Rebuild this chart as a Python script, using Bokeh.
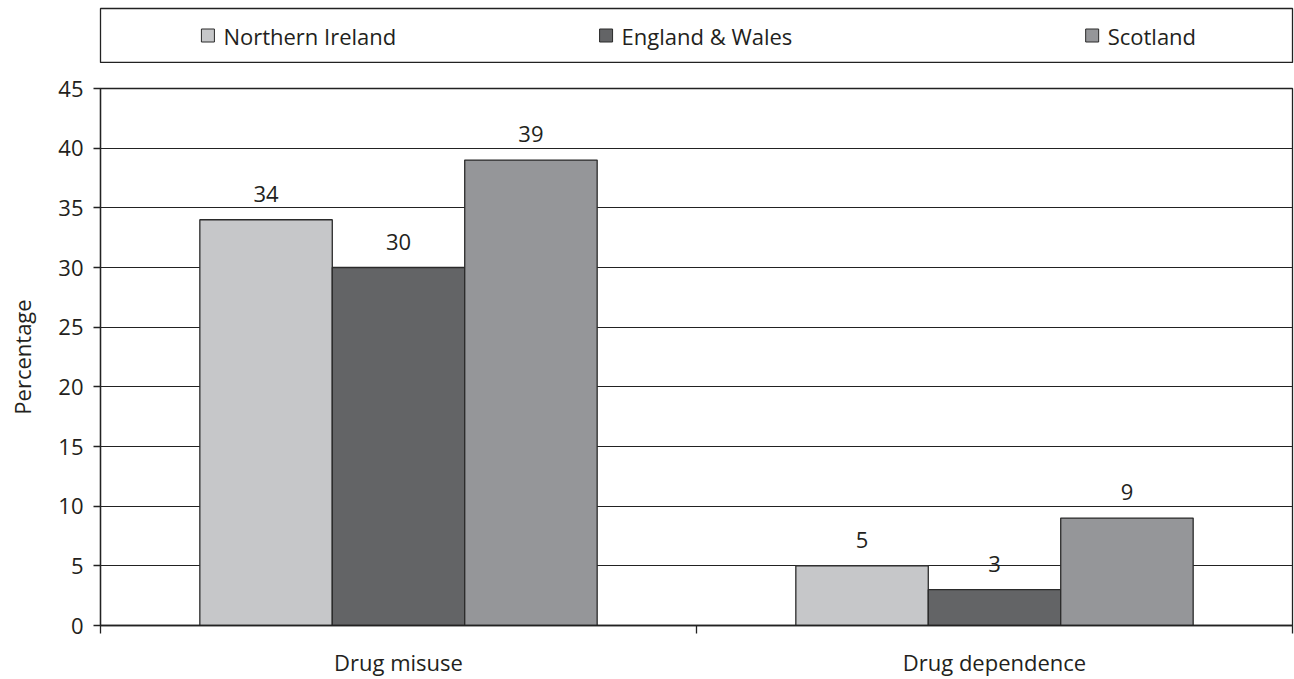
from bokeh.plotting import figure
from bokeh.models import ColumnDataSource, Range1d, FixedTicker
from bokeh.layouts import column
from bokeh.transform import dodge
from bokeh.core.properties import value
from bokeh.embed import file_html
from bokeh.resources import INLINE

# ---- data ----
categories = ["Drug misuse", "Drug dependence"]
series = ["Northern Ireland", "England & Wales", "Scotland"]
northern_ireland = [34, 5]
england_wales = [30, 3]
scotland = [39, 9]
y_ticks = [0, 5, 10, 15, 20, 25, 30, 35, 40, 45]

colors = ["#c6c7c9", "#636466", "#959699"]
edge = "#2a2a2a"
FONT = "Open Sans"
FS = "22px"

# ---- legend strip ----
leg = figure(width=1294, height=63, output_backend="svg", toolbar_location=None,
             x_range=Range1d(0, 1193), y_range=Range1d(0, 54),
             min_border_left=99, min_border_right=2, min_border_top=8, min_border_bottom=1)
leg.axis.visible = False
leg.grid.visible = False
leg.outline_line_color = "#222222"
leg.outline_line_width = 1.3
leg_sq_x = [107.5, 506, 992.5]
leg_src = ColumnDataSource(dict(x=leg_sq_x, tx=[x + 15.5 for x in leg_sq_x],
                                y=[27] * 3, name=series, color=colors))
leg.rect(x="x", y="y", width=13, height=13, width_units="screen", height_units="screen",
         fill_color="color", line_color=edge, line_width=1, source=leg_src)
leg.text(x="tx", y="y", text="name", source=leg_src, text_font=value(FONT),
         text_font_size=FS, text_baseline="middle", text_align="left", text_color="#231f20")

# ---- main chart ----
n = len(categories)
centers = [i + 0.5 for i in range(n)]
src = ColumnDataSource(dict(x=centers, cat=categories, ni=northern_ireland,
                            ew=england_wales, sc=scotland,
                            ni_t=[str(v) for v in northern_ireland],
                            ew_t=[str(v) for v in england_wales],
                            sc_t=[str(v) for v in scotland]))

p = figure(width=1294, height=616, output_backend="svg", toolbar_location=None,
           x_range=Range1d(0, n), y_range=Range1d(0, 45),
           min_border_left=100, min_border_right=2, min_border_top=25, min_border_bottom=53)
p.outline_line_color = "#222222"
p.outline_line_width = 1.3
p.xgrid.visible = False
p.ygrid.grid_line_color = "#222222"
p.ygrid.grid_line_width = 1.2
p.ygrid.ticker = FixedTicker(ticks=y_ticks)

bw = 1 / 4.5
for key, off, col in [("ni", -bw, colors[0]), ("ew", 0, colors[1]), ("sc", bw, colors[2])]:
    p.vbar(x=dodge("x", off, range=p.x_range), top=key, width=bw, bottom=0, source=src,
           fill_color=col, line_color=edge, line_width=1.3)
    p.text(x=dodge("x", off, range=p.x_range), y=key, text=key + "_t", source=src,
           text_font=value(FONT), text_font_size=FS, text_align="center",
           text_baseline="middle", y_offset=-26, text_color="#231f20")

# axes
p.yaxis.ticker = FixedTicker(ticks=y_ticks)
p.yaxis.axis_label = "Percentage"
p.yaxis.axis_label_text_font = FONT
p.yaxis.axis_label_text_font_style = "normal"
p.yaxis.axis_label_text_font_size = FS
p.yaxis.axis_label_standoff = 18
p.yaxis.major_label_text_font = FONT
p.yaxis.major_label_text_font_size = FS
p.yaxis.major_label_standoff = 10
p.yaxis.major_tick_out = 7
p.yaxis.major_tick_in = 0
p.yaxis.minor_tick_out = 0
p.yaxis.minor_tick_in = 0

p.xaxis.ticker = FixedTicker(ticks=centers, minor_ticks=list(range(n + 1)))
p.xaxis.major_label_overrides = {c: lab for c, lab in zip(centers, categories)}
p.xaxis.major_tick_out = 0
p.xaxis.major_tick_in = 0
p.xaxis.minor_tick_out = 8
p.xaxis.minor_tick_in = 0
p.xaxis.major_label_text_font = FONT
p.xaxis.major_label_text_font_size = FS
p.xaxis.major_label_standoff = 13

for ax in (p.xaxis, p.yaxis):
    ax.axis_line_color = "#222222"
    ax.axis_line_width = 1.3
    ax.major_tick_line_color = "#222222"
    ax.minor_tick_line_color = "#222222"
    ax.major_tick_line_width = 1.3
    ax.minor_tick_line_width = 1.3
    ax.major_label_text_color = "#231f20"
    ax.axis_label_text_color = "#231f20"

layout = column(leg, p, spacing=0)
open("out.html", "w").write(file_html(layout, INLINE))
